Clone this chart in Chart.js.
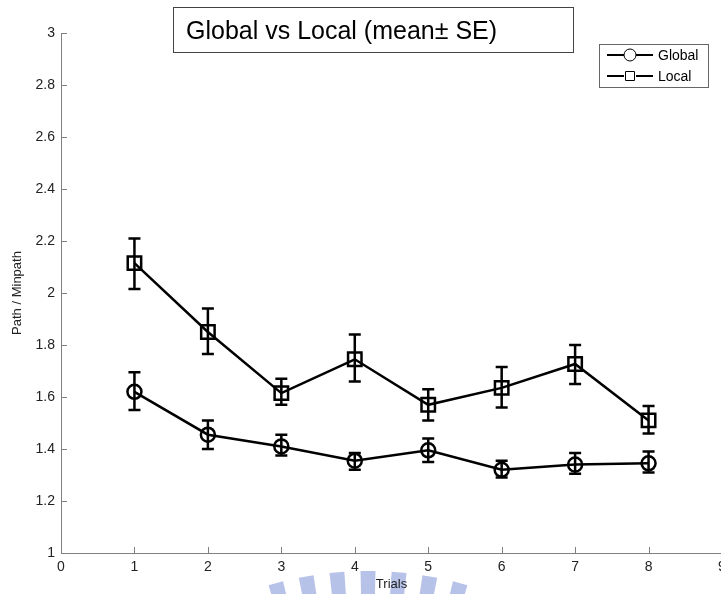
<!DOCTYPE html>
<html>
<head>
<meta charset="utf-8">
<script src="https://cdn.jsdelivr.net/npm/chart.js@4.4.1/dist/chart.umd.min.js"></script>
<style>
  html, body { margin: 0; padding: 0; background: #fff; overflow: hidden; width: 721px; height: 594px; }
  canvas { display: block; }
</style>
</head>
<body>
<canvas id="chart" width="740" height="594"></canvas>
<script>
const trials = [1, 2, 3, 4, 5, 6, 7, 8];
const globalMean = [1.62, 1.455, 1.41, 1.355, 1.395, 1.32, 1.34, 1.345];
const globalHigh = [1.695, 1.51, 1.455, 1.385, 1.44, 1.355, 1.385, 1.39];
const globalLow = [1.55, 1.40, 1.375, 1.32, 1.35, 1.29, 1.305, 1.31];
const localMean = [2.115, 1.85, 1.615, 1.745, 1.57, 1.635, 1.727, 1.51];
const localHigh = [2.21, 1.94, 1.67, 1.84, 1.63, 1.715, 1.80, 1.565];
const localLow = [2.015, 1.765, 1.57, 1.66, 1.51, 1.56, 1.65, 1.46];
const xTickLabels = ['0', '1', '2', '3', '4', '5', '6', '7', '8', '9'];
const yTickLabels = ['1', '1.2', '1.4', '1.6', '1.8', '2', '2.2', '2.4', '2.6', '2.8', '3'];
const seriesNames = ['Global', 'Local'];
const titleText = 'Global vs Local (mean\u00b1 SE)';

const FONT = '"Liberation Sans", Arial, sans-serif';
const AXIS_GREY = '#808080';

// error bars, drawn from the high/low arrays through the scales
const errorBars = {
  id: 'errorBars',
  afterDatasetsDraw(chart) {
    const { ctx, scales: { x, y } } = chart;
    const sets = [[globalHigh, globalLow], [localHigh, localLow]];
    ctx.save();
    ctx.strokeStyle = '#000';
    ctx.lineWidth = 2.5;
    sets.forEach(([hi, lo]) => {
      trials.forEach((t, i) => {
        const px = x.getPixelForValue(t);
        const yt = y.getPixelForValue(hi[i]);
        const yb = y.getPixelForValue(lo[i]);
        ctx.beginPath();
        ctx.moveTo(px, yt); ctx.lineTo(px, yb);
        ctx.moveTo(px - 6, yt); ctx.lineTo(px + 6, yt);
        ctx.moveTo(px - 6, yb); ctx.lineTo(px + 6, yb);
        ctx.stroke();
      });
    });
    ctx.restore();
  }
};

// inward tick marks like the original figure
const innerTicks = {
  id: 'innerTicks',
  afterDraw(chart) {
    const { ctx, chartArea: a, scales: { x, y } } = chart;
    ctx.save();
    ctx.strokeStyle = AXIS_GREY;
    ctx.lineWidth = 1;
    ctx.beginPath();
    x.ticks.forEach(t => {
      if (t.value === x.min) return;
      const px = Math.round(x.getPixelForValue(t.value)) + 0.5;
      ctx.moveTo(px, a.bottom); ctx.lineTo(px, a.bottom - 6);
    });
    y.ticks.forEach(t => {
      if (t.value === y.min) return;
      const py = Math.round(y.getPixelForValue(t.value)) + 0.5;
      ctx.moveTo(a.left, py); ctx.lineTo(a.left + 6, py);
    });
    ctx.stroke();
    ctx.restore();
  }
};

// boxed title and legend
const boxes = {
  id: 'boxes',
  afterDraw(chart) {
    const ctx = chart.ctx;
    ctx.save();
    ctx.fillStyle = '#fff';
    ctx.strokeStyle = '#444';
    ctx.lineWidth = 1;
    ctx.fillRect(173, 7, 400, 45);
    ctx.strokeRect(173.5, 7.5, 400, 45);
    ctx.fillStyle = '#000';
    ctx.font = '25px ' + FONT;
    ctx.textBaseline = 'alphabetic';
    ctx.fillText(titleText, 186, 39);

    ctx.fillStyle = '#fff';
    ctx.fillRect(599, 44, 109, 43);
    ctx.strokeStyle = '#666';
    ctx.strokeRect(599.5, 44.5, 109, 43);
    const rows = [55, 76];
    ctx.strokeStyle = '#000';
    ctx.lineWidth = 2.2;
    rows.forEach((ry, i) => {
      ctx.beginPath();
      ctx.moveTo(607, ry); ctx.lineTo(624, ry);
      ctx.moveTo(636, ry); ctx.lineTo(653, ry);
      ctx.stroke();
      ctx.lineWidth = 1;
      ctx.beginPath();
      if (i === 0) ctx.arc(630, ry, 6, 0, Math.PI * 2);
      else ctx.rect(625.5, ry - 4.5, 9, 9);
      ctx.stroke();
      ctx.lineWidth = 2.2;
      ctx.fillStyle = '#000';
      ctx.font = '14px ' + FONT;
      ctx.textBaseline = 'middle';
      ctx.fillText(seriesNames[i], 658, ry + 1);
    });
    ctx.restore();
  }
};

// faint logo watermark at the bottom of the page
const watermark = {
  id: 'watermark',
  beforeDraw(chart) {
    const ctx = chart.ctx;
    const cx = 368, cy = 926, rOut = 355, rIn = 300;
    const step = 0.0876, half = 0.021;
    ctx.save();
    ctx.fillStyle = '#b7c2e8';
    for (let k = -3; k <= 3; k++) {
      const a0 = k * step - half, a1 = k * step + half;
      ctx.beginPath();
      ctx.moveTo(cx + rOut * Math.sin(a0), cy - rOut * Math.cos(a0));
      ctx.lineTo(cx + rOut * Math.sin(a1), cy - rOut * Math.cos(a1));
      ctx.lineTo(cx + rIn * Math.sin(a1), cy - rIn * Math.cos(a1));
      ctx.lineTo(cx + rIn * Math.sin(a0), cy - rIn * Math.cos(a0));
      ctx.closePath();
      ctx.fill();
    }
    ctx.restore();
  }
};

new Chart(document.getElementById('chart').getContext('2d'), {
  type: 'line',
  data: {
    datasets: [
      {
        label: seriesNames[0],
        data: trials.map((t, i) => ({ x: t, y: globalMean[i] })),
        borderColor: '#000',
        borderWidth: 2.5,
        pointStyle: 'circle',
        pointRadius: 7,
        pointBorderWidth: 2.5,
        pointBackgroundColor: 'rgba(0,0,0,0)',
        pointBorderColor: '#000',
        tension: 0
      },
      {
        label: seriesNames[1],
        data: trials.map((t, i) => ({ x: t, y: localMean[i] })),
        borderColor: '#000',
        borderWidth: 2.5,
        pointStyle: 'rect',
        pointRadius: 9.5,
        pointBorderWidth: 2.5,
        pointBackgroundColor: 'rgba(0,0,0,0)',
        pointBorderColor: '#000',
        tension: 0
      }
    ]
  },
  options: {
    responsive: false,
    animation: false,
    layout: { padding: { top: 33, right: 18, left: 0, bottom: 0 } },
    plugins: { legend: { display: false }, tooltip: { enabled: false } },
    scales: {
      x: {
        type: 'linear',
        min: 0, max: 9,
        grid: { display: false, drawTicks: false },
        border: { display: true, color: AXIS_GREY, width: 1 },
        ticks: {
          stepSize: 1,
          padding: 6,
          color: '#222',
          font: { family: FONT, size: 14 },
          maxRotation: 0,
          callback: v => xTickLabels[v]
        },
        title: { display: true, text: 'Trials', color: '#222', font: { family: FONT, size: 13 }, padding: { top: 0, bottom: 2 } },
        afterFit: s => { s.height = 41; }
      },
      y: {
        type: 'linear',
        min: 1, max: 3,
        grid: { display: false, drawTicks: false },
        border: { display: true, color: AXIS_GREY, width: 1 },
        ticks: {
          stepSize: 0.2,
          padding: 6,
          color: '#222',
          font: { family: FONT, size: 14 },
          callback: v => yTickLabels[Math.round((v - 1) / 0.2)]
        },
        title: { display: true, text: 'Path / Minpath', color: '#222', font: { family: FONT, size: 13 }, padding: { top: 10, bottom: 0 } },
        afterFit: s => { s.width = 61; }
      }
    }
  },
  plugins: [watermark, errorBars, innerTicks, boxes]
});
</script>
</body>
</html>
